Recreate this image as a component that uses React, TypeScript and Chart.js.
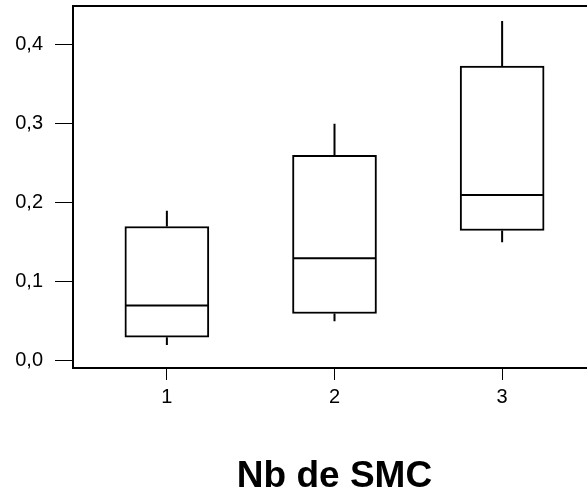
import React, { useEffect, useRef } from "react";
import { Chart, registerables } from "chart.js";

Chart.register(...registerables);

const categories = [1, 2, 3];
const xTickLabels = ["1", "2", "3"];
const whiskerLow = [0.02, 0.05, 0.15];
const q1 = [0.03, 0.06, 0.165];
const median = [0.07, 0.13, 0.21];
const q3 = [0.17, 0.26, 0.373];
const whiskerHigh = [0.19, 0.3, 0.43];
const yTicks = [0, 0.1, 0.2, 0.3, 0.4];
const xTitle = "Nb de SMC";

const FONT = "'Liberation Sans', Arial, sans-serif";

const boxPlugin = {
  id: "boxExtras",
  afterDatasetsDraw(chart: any) {
    const ctx = chart.ctx;
    const xs = chart.scales.x;
    const ys = chart.scales.y;
    const meta = chart.getDatasetMeta(0);
    ctx.save();
    ctx.strokeStyle = "#000";
    ctx.lineWidth = 2;
    categories.forEach((c, i) => {
      const x = xs.getPixelForValue(c);
      const bar = meta.data[i];
      const half = bar ? bar.width / 2 : 42;
      const ym = ys.getPixelForValue(median[i]);
      ctx.beginPath();
      ctx.moveTo(x - half + 1, ym);
      ctx.lineTo(x + half - 1, ym);
      ctx.stroke();
      ctx.beginPath();
      ctx.moveTo(x, ys.getPixelForValue(q3[i]));
      ctx.lineTo(x, ys.getPixelForValue(whiskerHigh[i]));
      ctx.moveTo(x, ys.getPixelForValue(q1[i]));
      ctx.lineTo(x, ys.getPixelForValue(whiskerLow[i]));
      ctx.stroke();
    });
    ctx.restore();
  },
  afterDraw(chart: any) {
    const { ctx, chartArea } = chart;
    ctx.save();
    ctx.strokeStyle = "#000";
    ctx.lineWidth = 2;
    ctx.beginPath();
    ctx.moveTo(chartArea.left, chartArea.top);
    ctx.lineTo(chartArea.right, chartArea.top);
    ctx.stroke();
    ctx.restore();
  },
};

export default function App() {
  const ref = useRef<HTMLCanvasElement | null>(null);
  useEffect(() => {
    if (!ref.current) return;
    const chart = new Chart(ref.current, {
      type: "bar",
      data: {
        datasets: [
          {
            data: categories.map((c, i) => ({ x: c, y: [q1[i], q3[i]] })) as any,
            backgroundColor: "#ffffff",
            borderColor: "#000000",
            borderWidth: 2,
            borderSkipped: false,
            barThickness: 84,
          },
        ],
      },
      options: {
        responsive: false,
        devicePixelRatio: 1,
        animation: false,
        layout: { padding: { top: 6, right: 4, left: 0, bottom: 0 } },
        plugins: { legend: { display: false }, tooltip: { enabled: false } },
        scales: {
          x: {
            type: "linear",
            min: 0.44,
            max: 3.56,
            offset: false,
            afterFit: (s: any) => {
              s.height = 131;
              s.paddingLeft = 0;
              s.paddingRight = 0;
            },
            afterBuildTicks: (s: any) => {
              s.ticks = categories.map((v) => ({ value: v }));
            },
            grid: {
              display: true,
              drawOnChartArea: false,
              drawTicks: true,
              tickLength: 12,
              tickColor: "#000",
              tickWidth: 1,
              offset: false,
            },
            border: { display: true, color: "#000", width: 2 },
            ticks: {
              color: "#000",
              font: { family: FONT, size: 20 },
              padding: 5,
              maxRotation: 0,
              callback: (_v: any, i: number) => xTickLabels[i],
            },
            title: {
              display: true,
              text: xTitle,
              color: "#000",
              font: { family: FONT, size: 37, weight: "bold" },
              padding: { top: 0, bottom: 0 },
            },
          },
          y: {
            type: "linear",
            min: -0.009,
            max: 0.449,
            afterFit: (s: any) => {
              s.width = 73;
              s.paddingTop = 0;
              s.paddingBottom = 0;
            },
            afterBuildTicks: (s: any) => {
              s.ticks = yTicks.map((v) => ({ value: v }));
            },
            grid: {
              display: true,
              drawOnChartArea: false,
              drawTicks: true,
              tickLength: 18,
              tickColor: "#000",
              tickWidth: 1,
            },
            border: { display: true, color: "#000", width: 2 },
            ticks: {
              color: "#000",
              font: { family: FONT, size: 20 },
              padding: 12,
              callback: (v: any) => Number(v).toFixed(1).replace(".", ","),
            },
          },
        },
      },
      plugins: [boxPlugin],
    });
    return () => chart.destroy();
  }, []);
  return (
    <div
      style={{
        position: "fixed",
        left: 0,
        top: 0,
        width: 587,
        height: 499,
        overflow: "hidden",
        background: "#ffffff",
      }}
    >
      <canvas ref={ref} width={600} height={499} style={{ display: "block", width: 600, height: 499 }} />
    </div>
  );
}
